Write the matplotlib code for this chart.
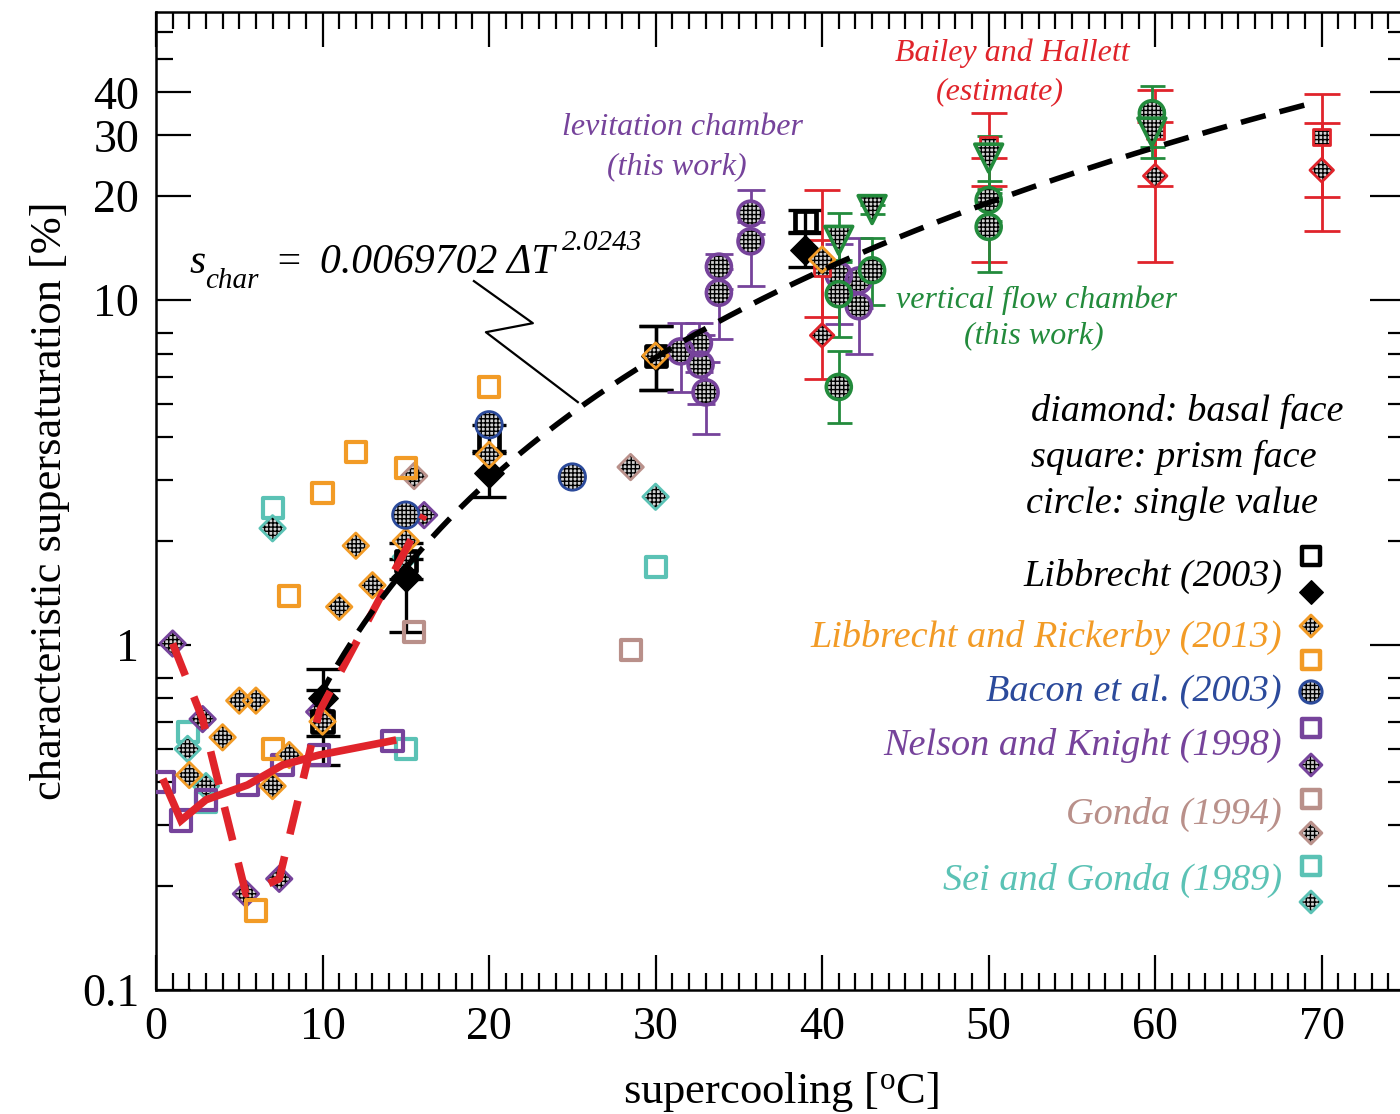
import numpy as np
import matplotlib
matplotlib.use("Agg")
import matplotlib.pyplot as plt
from matplotlib.ticker import NullFormatter

plt.rcParams['font.family'] = ['Liberation Serif', 'DejaVu Serif']
plt.rcParams['mathtext.fontset'] = 'custom'
plt.rcParams['mathtext.rm'] = 'Liberation Serif'
plt.rcParams['mathtext.it'] = 'Liberation Serif:italic'
plt.rcParams['hatch.linewidth'] = 1.0

# ---------------- data ----------------
# power-law fit  s_char = A * dT^B
FIT_A = 0.0069702
FIT_B = 2.0243
fit_range = [9.7, 69.4]

# Libbrecht (2003): prism (square) and basal (diamond) with error bars
lib_sq_x = [10, 15, 20, 30, 39]
lib_sq_y = [0.60, 1.75, 3.95, 6.9, 16.9]
lib_sq_lo = [0.45, 1.55, 3.65, 5.5, 15.8]
lib_sq_hi = [0.74, 1.98, 4.35, 8.4, 18.2]
lib_di_x = [10, 15, 20, 30, 39]
lib_di_y = [0.70, 1.57, 3.16, 6.9, 14.0]
lib_di_lo = [0.545, 1.09, 2.69, 5.5, 12.5]
lib_di_hi = [0.85, 1.78, 3.6, 8.4, 15.6]

# Libbrecht and Rickerby (2013)
lr_di_x = [2, 4, 5, 6, 7, 8, 10, 11, 12, 13, 15, 20, 30, 40]
lr_di_y = [0.42, 0.54, 0.69, 0.69, 0.39, 0.48, 0.60, 1.29, 1.94, 1.49, 2.0, 3.56, 6.9, 13.1]
lr_sq_x = [6, 7, 8, 10, 12, 15, 20]
lr_sq_y = [0.17, 0.50, 1.39, 2.76, 3.62, 3.26, 5.6]

# Bacon et al. (2003)
bacon_x = [15, 20, 25]
bacon_y = [2.38, 4.35, 3.07]

# Nelson and Knight (1998)
nk_sq_x = [0.5, 1.5, 3.0, 5.5, 7.6, 9.8, 14.2]
nk_sq_y = [0.40, 0.31, 0.356, 0.393, 0.449, 0.48, 0.528]
nk_di_x = [1.0, 2.8, 5.4, 7.4, 9.8, 16.1]
nk_di_y = [1.01, 0.61, 0.19, 0.21, 0.64, 2.38]

# Gonda (1994)
gonda_sq_x = [15.5, 28.5]
gonda_sq_y = [1.09, 0.97]
gonda_di_x = [15.5, 28.5]
gonda_di_y = [3.09, 3.28]

# Sei and Gonda (1989)
sei_sq_x = [1.9, 3.0, 7.0, 15.0, 30.0]
sei_sq_y = [0.56, 0.35, 2.49, 0.50, 1.68]
sei_di_x = [1.9, 3.0, 7.0, 15.0, 30.0]
sei_di_y = [0.50, 0.39, 2.18, 1.80, 2.69]

# levitation chamber (this work)
lev_x = [31.5, 32.6, 32.7, 33.0, 33.8, 33.8, 35.7, 35.7, 41.0, 42.2, 42.2]
lev_y = [7.1, 7.5, 6.5, 5.4, 12.5, 10.5, 17.8, 14.8, 11.8, 11.4, 9.6]
lev_lo = [5.4, 6.2, 5.0, 4.1, 10.8, 7.7, 15.5, 11.0, 8.5, 9.5, 7.0]
lev_hi = [8.6, 8.6, 7.9, 6.6, 13.6, 12.3, 20.9, 16.8, 14.5, 15.1, 12.0]

# vertical flow chamber (this work): circles and triangles
vf_c_x = [41.0, 41.0, 43.0, 50.0, 50.0, 59.8]
vf_c_y = [10.4, 5.6, 12.2, 19.5, 16.3, 34.8]
vf_c_lo = [7.8, 4.4, 9.7, 16.9, 12.1, 27.8]
vf_c_hi = [12.9, 7.1, 15.1, 22.1, 20.5, 41.7]
vf_t_x = [41.0, 43.0, 50.0, 59.8]
vf_t_y = [14.9, 18.3, 25.8, 30.7]
vf_t_lo = [13.1, 17.8, 21.0, 25.8]
vf_t_hi = [17.9, 18.8, 29.9, 35.6]

# Bailey and Hallett (estimate)
bh_x = [40, 50, 60, 70]
bh_sq_y = [12.4, 28.1, 31.0, 29.7]
bh_sq_lo = [8.95, 21.4, 21.4, 19.9]
bh_sq_hi = [20.9, 34.8, 40.6, 39.5]
bh_di_y = [7.9, 19.4, 22.9, 23.8]
bh_di_lo = [5.9, 12.9, 12.9, 15.85]
bh_di_hi = [14.9, 25.8, 32.9, 32.7]

x_ticks = [0, 10, 20, 30, 40, 50, 60, 70]
y_ticks = [0.1, 1, 10, 20, 30, 40]
y_ticklabels = ['0.1', '1', '10', '20', '30', '40']
y_minor = [0.2, 0.3, 0.4, 0.5, 0.6, 0.7, 0.8, 2, 3, 4, 5, 6, 7, 8, 50, 60]

# ---------------- style ----------------
BLACK = 'black'
ORANGE = '#f29b26'
BLUE = '#2b4a9b'
PURPLE = '#76439b'
BROWN = '#b9908a'
TEAL = '#5bc2b5'
RED = '#e0242b'
GREEN = '#238b3c'
CHECK_FACE = '#d2d2d2'
CHECK_HATCH = '++++'

fig = plt.figure(figsize=(14, 11.14), dpi=100)
ax = fig.add_axes([156 / 1400, 124 / 1114, 1249 / 1400, 978 / 1114])
ax.set_yscale('log')
ax.set_xlim(0, 75)
ax.set_ylim(0.1, 68.4)


def checker(x, y, marker, ms, edge, lw=2.0, z=5, **kw):
    # textured grey fill (black hatch) under a coloured outline
    ax.scatter(x, y, s=ms ** 2, marker=marker, facecolor=CHECK_FACE,
               edgecolor='black', linewidths=0, hatch=CHECK_HATCH, zorder=z, **kw)
    ax.scatter(x, y, s=ms ** 2, marker=marker, facecolor='none',
               edgecolor=edge, linewidths=lw, zorder=z, **kw)


def hollow(x, y, marker, ms, edge, lw=3.0, z=5):
    ax.scatter(x, y, s=ms ** 2, marker=marker, facecolor='none',
               edgecolor=edge, linewidths=lw, zorder=z)


def bars(x, y, lo, hi, color, cap=11, lw=2.0, z=3):
    y = np.asarray(y)
    err = [y - np.asarray(lo), np.asarray(hi) - y]
    ax.errorbar(x, y, yerr=err, fmt='none', ecolor=color, elinewidth=lw,
                capsize=cap, capthick=lw, zorder=z)


# error bars
bars(lib_sq_x, lib_sq_y, lib_sq_lo, lib_sq_hi, BLACK, cap=12, lw=2.4)
bars(lib_di_x, lib_di_y, lib_di_lo, lib_di_hi, BLACK, cap=12, lw=2.4)
bars(lev_x, lev_y, lev_lo, lev_hi, PURPLE, cap=10)
bars(bh_x, bh_sq_y, bh_sq_lo, bh_sq_hi, RED, cap=13)
bars(bh_x, bh_di_y, bh_di_lo, bh_di_hi, RED, cap=13)
bars(vf_c_x, vf_c_y, vf_c_lo, vf_c_hi, GREEN, cap=9)
bars(vf_t_x, vf_t_y, vf_t_lo, vf_t_hi, GREEN, cap=9)

# literature points
hollow(sei_sq_x, sei_sq_y, 's', 14.5, TEAL)
checker(sei_di_x, sei_di_y, 'D', 13, TEAL)
hollow(gonda_sq_x, gonda_sq_y, 's', 14.5, BROWN)
checker(gonda_di_x, gonda_di_y, 'D', 13, BROWN)
hollow(nk_sq_x, nk_sq_y, 's', 14.5, PURPLE)
checker(nk_di_x, nk_di_y, 'D', 13, PURPLE)
hollow(lr_sq_x, lr_sq_y, 's', 14.5, ORANGE)
ax.scatter(lib_di_x, lib_di_y, s=15 ** 2, marker='D', color=BLACK, zorder=5)
hollow(lib_sq_x, lib_sq_y, 's', 14.5, BLACK, lw=3.4)
checker(lr_di_x, lr_di_y, 'D', 13, ORANGE, z=6)
checker(bacon_x, bacon_y, 'o', 19, BLUE, z=6)

# this work and Bailey & Hallett
checker(lev_x, lev_y, 'o', 18, PURPLE, lw=2.6)
checker(bh_x, bh_sq_y, 's', 12, RED)
checker(bh_x, bh_di_y, 'D', 12, RED)
checker(vf_c_x, vf_c_y, 'o', 18, GREEN, lw=2.6)
checker(vf_t_x, vf_t_y, 'v', 20, GREEN, lw=2.6)

# Nelson & Knight trend lines
ax.plot(nk_sq_x, nk_sq_y, color=RED, lw=5.5, zorder=8, solid_joinstyle='miter')
ax.plot(nk_di_x, nk_di_y, color=RED, lw=5.5, zorder=8, dashes=(4.5, 3.0))

# power-law fit
xf = np.linspace(fit_range[0], fit_range[1], 300)
ax.plot(xf, FIT_A * xf ** FIT_B, color=BLACK, lw=4.0, dashes=(4.6, 2.6), zorder=9)

# formula label with pointer
anchor = (2.04, 11.97)
formula_parts = [
    ('s', 0, 0, 30),
    ('char', 11, -11, 21),
    ('=', 61, 0, 30),
    (f'{FIT_A:.7f} \u0394T', 93.5, 0, 30),
    (f'{FIT_B:.4f}', 268, 17, 21),
]
for txt, dx, dy, fs in formula_parts:
    ax.annotate(txt, xy=anchor, xytext=(dx, dy), textcoords='offset points',
                fontsize=fs, style='italic', ha='left', va='baseline', zorder=10)
ax.plot([19.09, 22.63, 19.81, 25.33], [11.35, 8.57, 8.07, 5.06], color=BLACK, lw=1.6, zorder=10)

# group annotations
ann = dict(fontsize=23, style='italic', ha='center', va='center')
ax.text(31.6, 31.7, 'levitation chamber', color=PURPLE, **ann)
ax.text(31.3, 24.4, '(this work)', color=PURPLE, **ann)
ax.text(51.4, 52.0, 'Bailey and Hallett', color=RED, **ann)
ax.text(50.7, 40.1, '(estimate)', color=RED, **ann)
ax.text(52.9, 10.0, 'vertical flow chamber', color=GREEN, **ann)
ax.text(52.7, 7.87, '(this work)', color=GREEN, **ann)

key = dict(fontsize=27.5, style='italic', ha='right', va='center', transform=ax.transAxes)
ax.text(0.951, 0.5920, 'diamond: basal face', **key)
ax.text(0.929, 0.5450, 'square: prism face', **key)
ax.text(0.9304, 0.4969, 'circle: single value', **key)

# legend of data sources
legend_rows = [
    ('Libbrecht (2003)', BLACK, 0.4233, [('s_open', 0.4438), ('D_fill', 0.4070)]),
    ('Libbrecht and Rickerby (2013)', ORANGE, 0.3600, [('D', 0.3722), ('s_open', 0.3374)]),
    ('Bacon et al. (2003)', BLUE, 0.3047, [('o', 0.3047)]),
    ('Nelson and Knight (1998)', PURPLE, 0.2505, [('s_open', 0.2679), ('D', 0.2301)]),
    ('Gonda (1994)', BROWN, 0.1800, [('s_open', 0.1953), ('D', 0.1605)]),
    ('Sei and Gonda (1989)', TEAL, 0.1125, [('s_open', 0.1268), ('D', 0.0900)]),
]
mx = 0.9247
for label, col, ty, marks in legend_rows:
    ax.text(0.9015, ty, label, color=col, fontsize=27.5, style='italic',
            ha='right', va='center', transform=ax.transAxes)
    for kind, my in marks:
        common = dict(transform=ax.transAxes, clip_on=False, zorder=10)
        if kind == 's_open':
            ax.scatter([mx], [my], s=12.5 ** 2, marker='s', facecolor='none', edgecolor=col,
                       linewidths=3.2, **common)
        elif kind == 'D_fill':
            ax.scatter([mx], [my], s=12 ** 2, marker='D', color=col, **common)
        else:
            m, ms = ('D', 11) if kind == 'D' else ('o', 16)
            ax.scatter([mx], [my], s=ms ** 2, marker=m, facecolor=CHECK_FACE, edgecolor='black',
                       linewidths=0, hatch=CHECK_HATCH, **common)
            ax.scatter([mx], [my], s=ms ** 2, marker=m, facecolor='none', edgecolor=col,
                       linewidths=2.2, **common)

# axes, ticks and labels
ax.set_xticks(x_ticks)
ax.set_xticks(np.arange(0, 76, 1), minor=True)
ax.set_yticks(y_ticks, labels=y_ticklabels)
ax.set_yticks(y_minor, minor=True)
ax.yaxis.set_minor_formatter(NullFormatter())
ax.tick_params(which='major', direction='in', length=25, width=1.6,
               top=True, right=True, labelsize=33, pad=12)
ax.tick_params(which='minor', direction='in', length=12, width=1.6,
               top=True, right=True)
for sp in ax.spines.values():
    sp.set_linewidth(1.8)

ax.set_xlabel(r'supercooling [$^{\mathrm{o}}$C]', fontsize=32)
ax.set_ylabel('characteristic supersaturation [%]', fontsize=32)
ax.xaxis.set_label_coords(0.5, -0.082)
ax.yaxis.set_label_coords(-0.069, 0.5)

fig.savefig('out.png', dpi=100)
